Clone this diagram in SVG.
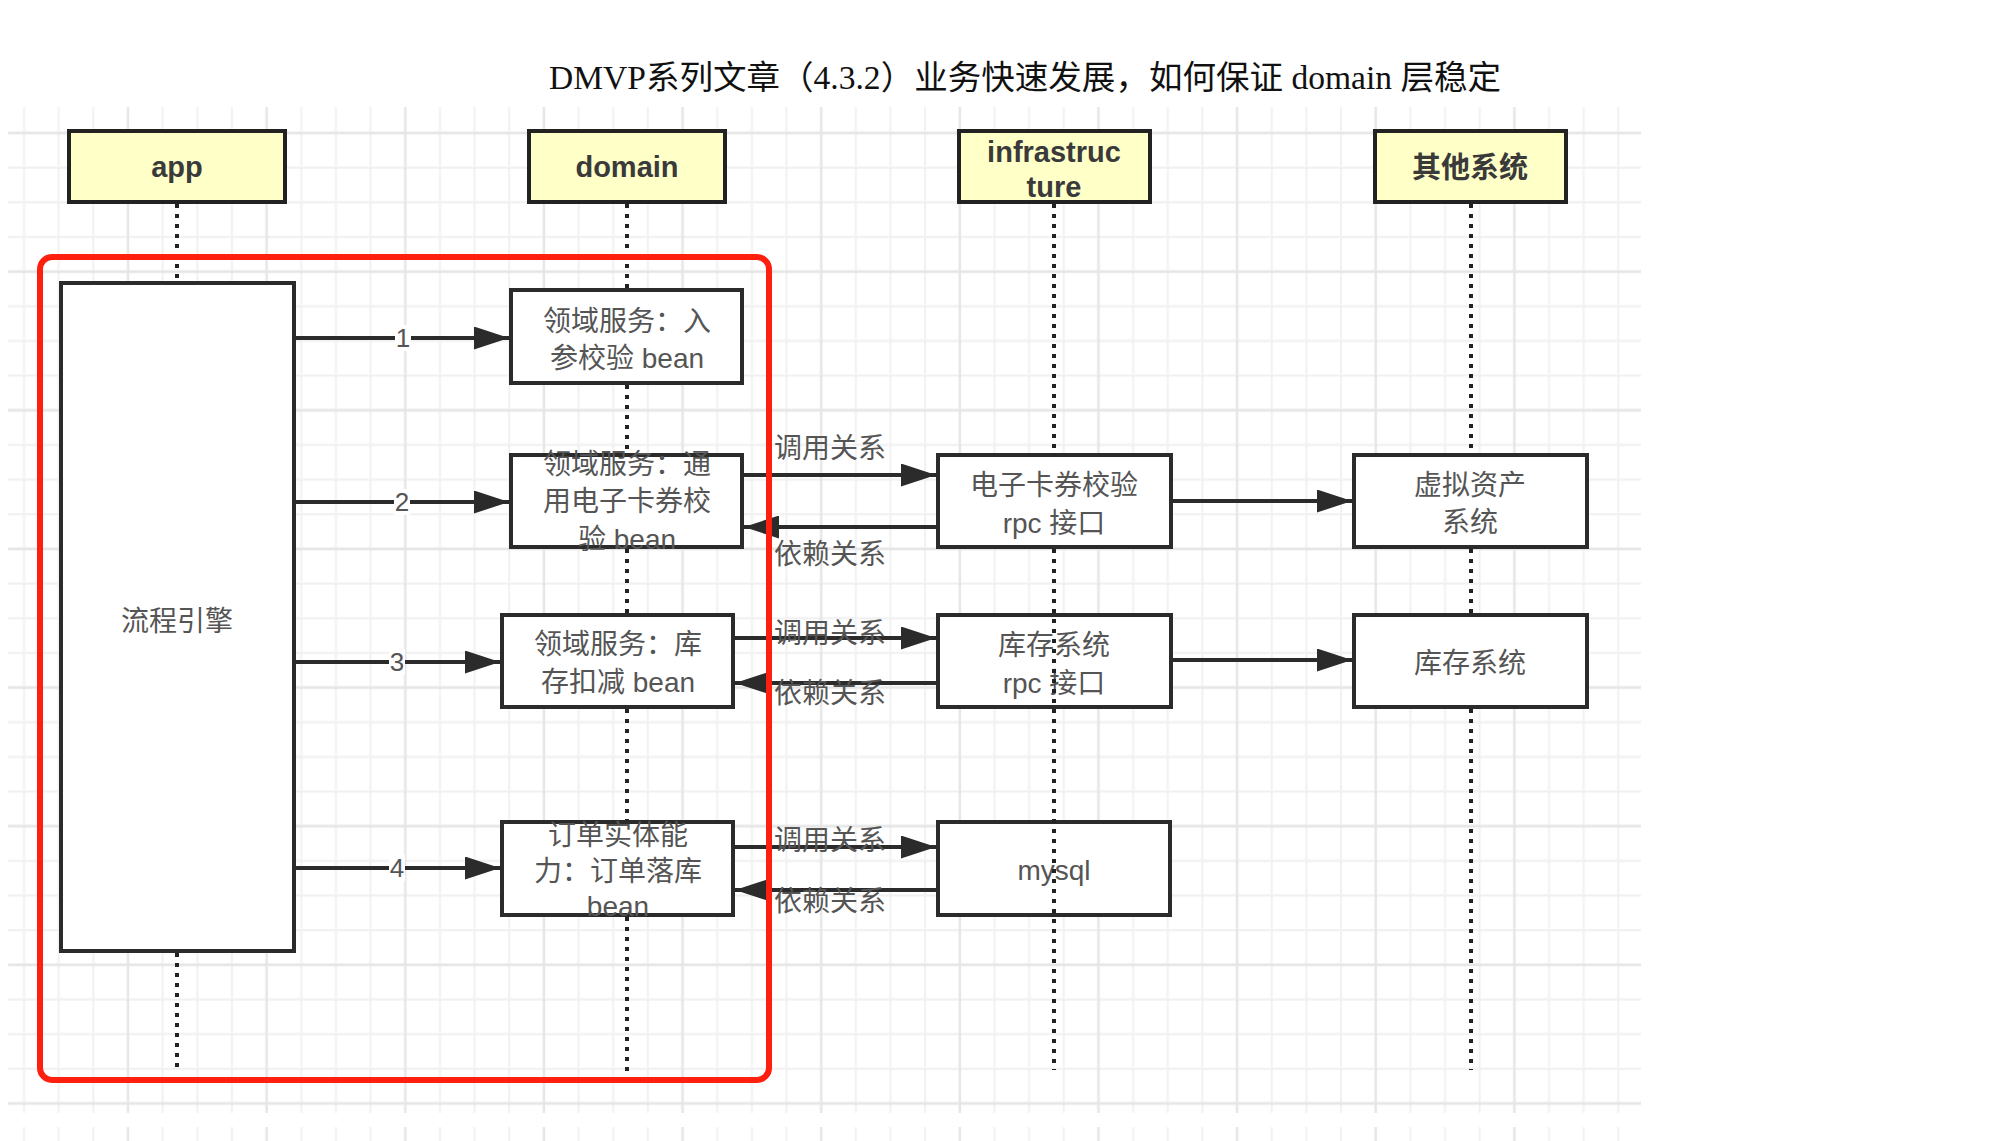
<svg xmlns="http://www.w3.org/2000/svg" width="2000" height="1141" viewBox="0 0 2000 1141">
<defs>
<pattern id="grid" x="41.35" y="46.35" width="138.64" height="138.64" patternUnits="userSpaceOnUse">
<path d="M17.33 0V138.64M51.99 0V138.64M121.31 0V138.64M0 17.33H138.64M0 51.99H138.64M0 121.31H138.64" stroke="#f1f1f1" stroke-width="2" fill="none"/>
<path d="M86.65 0V138.64M0 86.65H138.64" stroke="#e6e6e6" stroke-width="2.5" fill="none"/>
</pattern>
<pattern id="gridv" x="41.35" y="0" width="138.64" height="138.64" patternUnits="userSpaceOnUse">
<path d="M17.33 0V138.64M51.99 0V138.64M121.31 0V138.64" stroke="#f1f1f1" stroke-width="2" fill="none"/>
<path d="M86.65 0V138.64" stroke="#e6e6e6" stroke-width="2.5" fill="none"/>
</pattern>
<marker id="arr" viewBox="0 0 35 23" refX="35" refY="11.5" markerWidth="35" markerHeight="23" markerUnits="userSpaceOnUse" orient="auto">
<path d="M0,0 L35,11.5 L0,23 z" fill="#2b2b2b"/>
</marker>
</defs>
<style>
.hdr{fill:#ffffc8;stroke:#222;stroke-width:4}
.box{fill:#fff;stroke:#2b2b2b;stroke-width:4}
.ht{font-family:"Liberation Sans","Noto Sans CJK SC",sans-serif;font-size:29px;font-weight:bold;fill:#3a3a3a;text-anchor:middle}
.bt{font-family:"Liberation Sans","Noto Sans CJK SC",sans-serif;font-size:28px;fill:#555;text-anchor:middle}
.lt{font-family:"Liberation Sans","Noto Sans CJK SC",sans-serif;font-size:28px;fill:#555;text-anchor:middle}
.nt{font-family:"Liberation Sans",sans-serif;font-size:26px;fill:#555;text-anchor:middle}
.life{stroke:#222;stroke-width:4;stroke-dasharray:4 6;fill:none}
.edge{stroke:#2b2b2b;stroke-width:4;fill:none;marker-end:url(#arr)}
.title{font-family:"Liberation Serif","Noto Sans CJK SC",serif;font-size:33px;fill:#111;text-anchor:middle}
</style>
<rect x="0" y="0" width="2000" height="1141" fill="#fff"/>
<rect x="8" y="107" width="1633" height="1006" fill="url(#grid)"/>
<rect x="8" y="1127" width="1633" height="14" fill="url(#gridv)"/>
<text class="title" x="1025" y="89" textLength="952" lengthAdjust="spacingAndGlyphs">DMVP系列文章（4.3.2）业务快速发展，如何保证 domain 层稳定</text>

<g id="lifelines">
<path class="life" d="M177 204V283M177 953V1072"/>
<path class="life" d="M627 204V290M627 385V455M627 549V615M627 709V822M627 917V1072"/>
<path class="life" d="M1471 204V455M1471 549V615M1471 709V1070"/>
</g>

<g id="app"><rect class="hdr" x="69" y="131" width="216" height="71"/><text class="ht" x="177" y="177">app</text></g>
<g id="domain"><rect class="hdr" x="529" y="131" width="196" height="71"/><text class="ht" x="627" y="177">domain</text></g>
<g id="infrastructure"><rect class="hdr" x="959" y="131" width="191" height="71"/><text class="ht" x="1054" y="162">infrastruc</text><text class="ht" x="1054" y="197">ture</text></g>
<g id="other"><rect class="hdr" x="1375" y="131" width="191" height="71"/><text class="ht" x="1470" y="178">其他系统</text></g>

<g id="engine"><rect class="box" x="61" y="283" width="233" height="668"/><text class="bt" x="177" y="631">流程引擎</text></g>
<g id="d1"><rect class="box" x="511" y="290" width="231" height="93"/><text class="bt" x="627" y="331">领域服务：入</text><text class="bt" x="627" y="368">参校验 bean</text></g>
<g id="d2"><rect class="box" x="511" y="455" width="231" height="92"/><text class="bt" x="627" y="474">领域服务：通</text><text class="bt" x="627" y="511">用电子卡券校</text><text class="bt" x="627" y="549">验 bean</text></g>
<g id="d3"><rect class="box" x="502" y="615" width="231" height="92"/><text class="bt" x="618" y="654">领域服务：库</text><text class="bt" x="618" y="692">存扣减 bean</text></g>
<g id="d4"><rect class="box" x="502" y="822" width="231" height="93"/><text class="bt" x="618" y="845">订单实体能</text><text class="bt" x="618" y="881">力：订单落库</text><text class="bt" x="618" y="916">bean</text></g>

<g id="i1"><rect class="box" x="938" y="455" width="233" height="92"/><text class="bt" x="1054" y="495">电子卡券校验</text><text class="bt" x="1054" y="533">rpc 接口</text></g>
<g id="i2"><rect class="box" x="938" y="615" width="233" height="92"/><text class="bt" x="1054" y="655">库存系统</text><text class="bt" x="1054" y="693">rpc 接口</text></g>
<g id="i3"><rect class="box" x="938" y="822" width="232" height="93"/><text class="bt" x="1054" y="880">mysql</text></g>
<path class="life" d="M1054 204V455M1054 549V1070"/>

<g id="o1"><rect class="box" x="1354" y="455" width="233" height="92"/><text class="bt" x="1470" y="495">虚拟资产</text><text class="bt" x="1470" y="532">系统</text></g>
<g id="o2"><rect class="box" x="1354" y="615" width="233" height="92"/><text class="bt" x="1470" y="673">库存系统</text></g>

<g id="connectors">
<path class="edge" d="M294 338H509"/>
<path class="edge" d="M294 502H509"/>
<path class="edge" d="M294 662H500"/>
<path class="edge" d="M294 868H500"/>
<rect x="395" y="325" width="16" height="26" fill="#fff"/><text class="nt" x="403" y="347">1</text>
<rect x="394" y="489" width="16" height="26" fill="#fff"/><text class="nt" x="402" y="511">2</text>
<rect x="389" y="649" width="16" height="26" fill="#fff"/><text class="nt" x="397" y="671">3</text>
<rect x="389" y="855" width="16" height="26" fill="#fff"/><text class="nt" x="397" y="877">4</text>
<path class="edge" d="M742 475H936"/>
<path class="edge" d="M938 527H744"/>
<path class="edge" d="M733 638H936"/>
<path class="edge" d="M938 683H735"/>
<path class="edge" d="M733 847H936"/>
<path class="edge" d="M938 890H735"/>
<path class="edge" d="M1171 501H1352"/>
<path class="edge" d="M1171 660H1352"/>
<text class="lt" x="830" y="458">调用关系</text>
<text class="lt" x="830" y="564">依赖关系</text>
<text class="lt" x="830" y="643">调用关系</text>
<text class="lt" x="830" y="703">依赖关系</text>
<text class="lt" x="830" y="850">调用关系</text>
<text class="lt" x="830" y="911">依赖关系</text>
</g>

<rect id="highlight" x="40" y="257" width="729" height="823" rx="12" fill="none" stroke="#ff1f0f" stroke-width="6"/>
</svg>
